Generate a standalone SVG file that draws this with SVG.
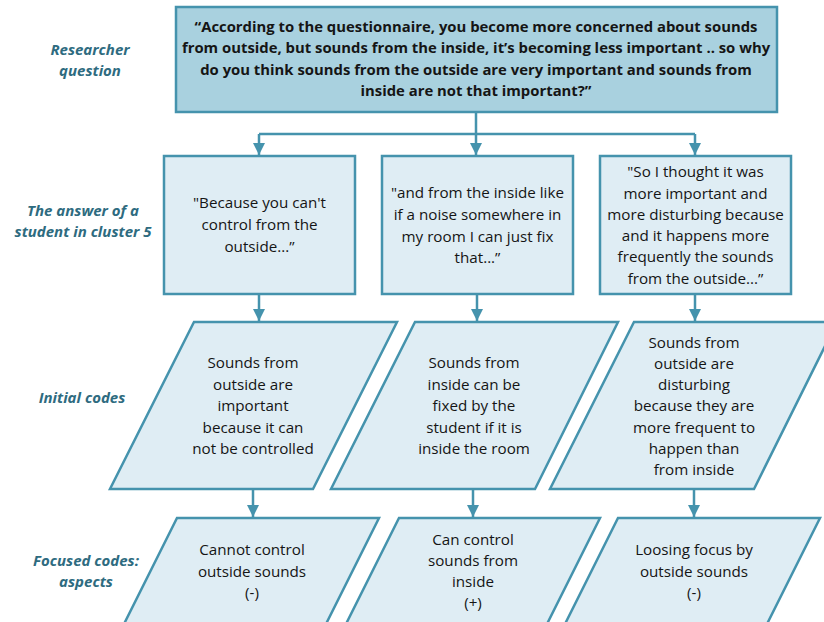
<svg xmlns="http://www.w3.org/2000/svg" width="824" height="622" viewBox="0 0 824 622">
  <style>
    .q { fill: #A9D1DF; stroke: #4593AD; stroke-width: 2.5; }
    .b { fill: #DFEDF4; stroke: #4593AD; stroke-width: 2.5; }
    .t { font-family: "Open Sans", "Noto Sans", sans-serif; font-size: 15.2px; fill: #151515; text-anchor: middle; }
    .tb { font-family: "Open Sans", "Noto Sans", sans-serif; font-size: 14.85px; font-weight: bold; fill: #151515; text-anchor: middle; }
    .lab { font-family: "Open Sans", "Noto Sans", sans-serif; font-size: 15px; font-weight: bold; font-style: italic; fill: #2E6B80; text-anchor: middle; }
    .c { fill: none; stroke: #4593AD; stroke-width: 2.5; }
  </style>
  <defs>
    <marker id="ah" markerUnits="userSpaceOnUse" markerWidth="12" markerHeight="12" viewBox="0 0 12 12" refX="12" refY="6" orient="auto">
      <path d="M0 0 L12 6 L0 12 Z" fill="#4593AD"/>
    </marker>
  </defs>

  <rect width="824" height="622" fill="#FFFFFF"/>

  <!-- row labels -->
  <g id="labels">
    <text class="lab" x="90" y="55">Researcher</text>
    <text class="lab" x="90" y="76">question</text>
    <text class="lab" x="83" y="216">The answer of a</text>
    <text class="lab" x="83" y="237">student in cluster 5</text>
    <text class="lab" x="82" y="403">Initial codes</text>
    <text class="lab" x="86" y="566">Focused codes:</text>
    <text class="lab" x="86" y="587">aspects</text>
  </g>

  <!-- connectors -->
  <g id="connectors">
    <path class="c" d="M476 112 V134 M259 134 H695"/>
    <path class="c" d="M259 134 V155" marker-end="url(#ah)"/>
    <path class="c" d="M476 134 V155" marker-end="url(#ah)"/>
    <path class="c" d="M695 134 V155" marker-end="url(#ah)"/>
    <path class="c" d="M259 294 V321" marker-end="url(#ah)"/>
    <path class="c" d="M477 294 V321" marker-end="url(#ah)"/>
    <path class="c" d="M695 294 V321" marker-end="url(#ah)"/>
    <path class="c" d="M253 489 V517" marker-end="url(#ah)"/>
    <path class="c" d="M473 489 V517" marker-end="url(#ah)"/>
    <path class="c" d="M694 489 V517" marker-end="url(#ah)"/>
  </g>

  <!-- researcher question -->
  <g id="question">
    <rect class="q" x="176" y="7" width="601" height="105"/>
    <text class="tb" x="476" y="32">“According to the questionnaire, you become more concerned about sounds</text>
    <text class="tb" x="476" y="53">from outside, but sounds from the inside, it’s becoming less important .. so why</text>
    <text class="tb" x="476" y="75">do you think sounds from the outside are very important and sounds from</text>
    <text class="tb" x="476" y="96">inside are not that important?”</text>
  </g>

  <!-- student answers -->
  <g id="answer1">
    <rect class="b" x="164" y="156" width="191" height="138"/>
    <text class="t" x="259.5" y="208">"Because you can't</text>
    <text class="t" x="259.5" y="230">control from the</text>
    <text class="t" x="259.5" y="252">outside...”</text>
  </g>
  <g id="answer2">
    <rect class="b" x="382" y="156" width="191" height="138"/>
    <text class="t" x="477.5" y="198">"and from the inside like</text>
    <text class="t" x="477.5" y="220">if a noise somewhere in</text>
    <text class="t" x="477.5" y="242">my room I can just fix</text>
    <text class="t" x="477.5" y="263">that...”</text>
  </g>
  <g id="answer3">
    <rect class="b" x="600" y="156" width="191" height="138"/>
    <text class="t" x="695.5" y="177">"So I thought it was</text>
    <text class="t" x="695.5" y="199">more important and</text>
    <text class="t" x="695.5" y="220">more disturbing because</text>
    <text class="t" x="695.5" y="241">and it happens more</text>
    <text class="t" x="695.5" y="262">frequently the sounds</text>
    <text class="t" x="695.5" y="284">from the outside...”</text>
  </g>

  <!-- initial codes -->
  <g id="initial1">
    <polygon class="b" points="194,322 397,322 313,489 110,489"/>
    <text class="t" x="253" y="368">Sounds from</text>
    <text class="t" x="253" y="390">outside are</text>
    <text class="t" x="253" y="411">important</text>
    <text class="t" x="253" y="433">because it can</text>
    <text class="t" x="253" y="454">not be controlled</text>
  </g>
  <g id="initial2">
    <polygon class="b" points="415,322 618,322 535,489 331,489"/>
    <text class="t" x="474" y="368">Sounds from</text>
    <text class="t" x="474" y="390">inside can be</text>
    <text class="t" x="474" y="411">fixed by the</text>
    <text class="t" x="474" y="433">student if it is</text>
    <text class="t" x="474" y="454">inside the room</text>
  </g>
  <g id="initial3">
    <polygon class="b" points="634,322 837,322 754,489 550,489"/>
    <text class="t" x="694" y="348">Sounds from</text>
    <text class="t" x="694" y="369">outside are</text>
    <text class="t" x="694" y="390">disturbing</text>
    <text class="t" x="694" y="411">because they are</text>
    <text class="t" x="694" y="433">more frequent to</text>
    <text class="t" x="694" y="454">happen than</text>
    <text class="t" x="694" y="475">from inside</text>
  </g>

  <!-- focused codes -->
  <g id="focused1">
    <polygon class="b" points="177,518 379,518 313,650 111,650"/>
    <text class="t" x="252" y="555">Cannot control</text>
    <text class="t" x="252" y="577">outside sounds</text>
    <text class="t" x="252" y="598">(-)</text>
  </g>
  <g id="focused2">
    <polygon class="b" points="399,518 600,518 534,650 333,650"/>
    <text class="t" x="473" y="545">Can control</text>
    <text class="t" x="473" y="566">sounds from</text>
    <text class="t" x="473" y="587">inside</text>
    <text class="t" x="473" y="608">(+)</text>
  </g>
  <g id="focused3">
    <polygon class="b" points="618,518 820,518 754,650 552,650"/>
    <text class="t" x="694" y="555">Loosing focus by</text>
    <text class="t" x="694" y="577">outside sounds</text>
    <text class="t" x="694" y="598">(-)</text>
  </g>
</svg>
